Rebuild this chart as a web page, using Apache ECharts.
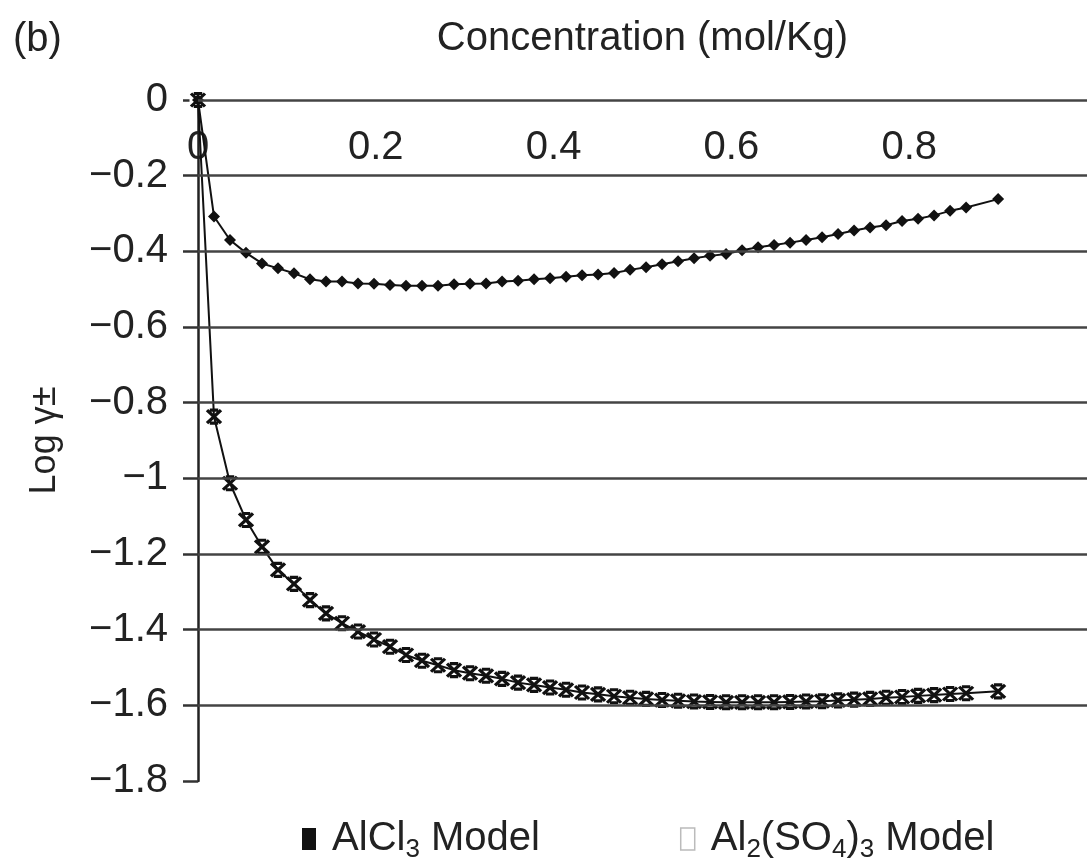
<!DOCTYPE html>
<html><head><meta charset="utf-8">
<script src="https://cdn.jsdelivr.net/npm/echarts@6/dist/echarts.min.js"></script>
<style>html,body{margin:0;padding:0;background:#fff}#c{width:1087px;height:861px}</style>
</head><body><div id="c"></div>
<script>
const xValues = [0, 0.018, 0.036, 0.054, 0.072, 0.09, 0.108, 0.126, 0.144, 0.162, 0.18, 0.198, 0.216, 0.234, 0.252, 0.27, 0.288, 0.306, 0.324, 0.342, 0.36, 0.378, 0.396, 0.414, 0.432, 0.45, 0.468, 0.486, 0.504, 0.522, 0.54, 0.558, 0.576, 0.594, 0.612, 0.63, 0.648, 0.666, 0.684, 0.702, 0.72, 0.738, 0.756, 0.774, 0.792, 0.81, 0.828, 0.846, 0.864, 0.9];
const alcl3 = [0, -0.308, -0.370, -0.404, -0.432, -0.445, -0.458, -0.474, -0.480, -0.480, -0.485, -0.486, -0.489, -0.491, -0.491, -0.491, -0.487, -0.486, -0.485, -0.480, -0.478, -0.474, -0.471, -0.467, -0.463, -0.461, -0.457, -0.449, -0.442, -0.434, -0.426, -0.418, -0.412, -0.407, -0.397, -0.389, -0.383, -0.377, -0.370, -0.363, -0.354, -0.345, -0.337, -0.331, -0.320, -0.314, -0.305, -0.293, -0.284, -0.262];
const al2so43 = [0, -0.837, -1.013, -1.110, -1.181, -1.242, -1.279, -1.322, -1.357, -1.383, -1.405, -1.426, -1.445, -1.467, -1.482, -1.494, -1.507, -1.515, -1.522, -1.530, -1.540, -1.546, -1.553, -1.559, -1.566, -1.571, -1.576, -1.580, -1.583, -1.586, -1.588, -1.590, -1.591, -1.592, -1.592, -1.592, -1.592, -1.591, -1.590, -1.589, -1.587, -1.585, -1.583, -1.580, -1.578, -1.575, -1.573, -1.570, -1.568, -1.563];
const gridValues = [0, -0.2, -0.4, -0.6, -0.8, -1, -1.2, -1.4, -1.6];
const xTickLabels = ['0', '0.2', '0.4', '0.6', '0.8'];
const seriesNames = ['AlCl3 Model', 'Al2(SO4)3 Model'];

const FONT = "'Liberation Sans', Arial, sans-serif";
const INK = '#222';
const chart = echarts.init(document.getElementById('c'), null, {renderer: 'canvas'});
const pairs = ys => xValues.map((x, i) => [x, ys[i]]);
const X_PATH = 'path://M0,0L10,10M10,0L0,10M2,0L8,0M2,10L8,10';

const option = {
  animation: false,
  backgroundColor: '#fff',
  textStyle: {fontFamily: FONT},
  title: {text: '(b)', left: 8, top: 15, textStyle: {fontSize: 40, fontWeight: 'normal', color: INK, fontFamily: FONT}},
  grid: {left: 198, top: 100, width: 900, height: 681},
  xAxis: {
    type: 'value', position: 'top', min: 0, max: 1, interval: 0.2,
    name: 'Concentration (mol/Kg)', nameLocation: 'middle', nameGap: 41,
    nameTextStyle: {fontSize: 40, color: INK, fontFamily: FONT},
    axisLine: {show: false}, axisTick: {show: false}, splitLine: {show: false},
    axisLabel: {
      inside: true, margin: 28, fontSize: 40, color: INK, fontFamily: FONT, showMaxLabel: false,
      formatter: v => { const i = Math.round(v / 0.2); return xTickLabels[i] !== undefined ? xTickLabels[i] : ''; }
    }
  },
  yAxis: {
    type: 'value', min: -1.8, max: 0, interval: 0.2,
    name: 'Log γ±', nameLocation: 'middle', nameRotate: 90, nameGap: 135,
    nameTextStyle: {fontSize: 36, color: INK, fontFamily: FONT},
    axisLine: {show: true, onZero: false, lineStyle: {color: INK, width: 2.5}},
    axisTick: {show: true, inside: false, length: 15, lineStyle: {color: '#333', width: 2.5}},
    splitLine: {show: false},
    axisLabel: {
      margin: 30, fontSize: 40, color: INK, fontFamily: FONT,
      formatter: v => (v < 0 ? '\u2212' : '') + String(Math.abs(Math.round(v * 10) / 10))
    }
  },
  legend: {
    left: 297, top: 814, itemGap: 140, itemWidth: 14, itemHeight: 22,
    selectedMode: false,
    data: [
      {name: seriesNames[0], icon: 'rect', itemStyle: {color: '#111', borderWidth: 0}},
      {name: seriesNames[1], icon: 'rect', itemStyle: {color: '#fff', borderColor: '#bbb', borderWidth: 1.5}}
    ],
    formatter: name => name === seriesNames[0]
      ? '{n| AlCl}{s|3}{n| Model}'
      : '{n| Al}{s|2}{n|(SO}{s|4}{n|)}{s|3}{n| Model}',
    textStyle: {
      color: INK,
      rich: {
        n: {fontSize: 40, lineHeight: 48, verticalAlign: 'middle', fontFamily: FONT, color: INK},
        s: {fontSize: 26, lineHeight: 20, verticalAlign: 'bottom', fontFamily: FONT, color: INK}
      }
    }
  },
  series: [
    {
      type: 'line', data: [], silent: true, z: 1, symbol: 'none',
      markLine: {
        silent: true, symbol: 'none', label: {show: false}, emphasis: {disabled: true},
        lineStyle: {color: '#444', width: 2.5, type: 'solid'},
        data: gridValues.map(v => ({yAxis: v}))
      }
    },
    {
      type: 'scatter', data: pairs(al2so43), silent: true, z: 2,
      symbol: 'rect', symbolSize: [17, 15], itemStyle: {color: '#fff', opacity: 1}
    },
    {
      name: seriesNames[0], type: 'line', data: pairs(alcl3), z: 3,
      symbol: 'diamond', symbolSize: 12,
      itemStyle: {color: '#111'}, lineStyle: {color: '#111', width: 2}
    },
    {
      name: seriesNames[1], type: 'line', data: pairs(al2so43), z: 4,
      symbol: X_PATH, symbolSize: [14, 13],
      itemStyle: {color: '#111', borderColor: '#111', borderWidth: 3.2},
      lineStyle: {color: '#111', width: 2}
    }
  ]
};
chart.setOption(option);
</script>
</body></html>
